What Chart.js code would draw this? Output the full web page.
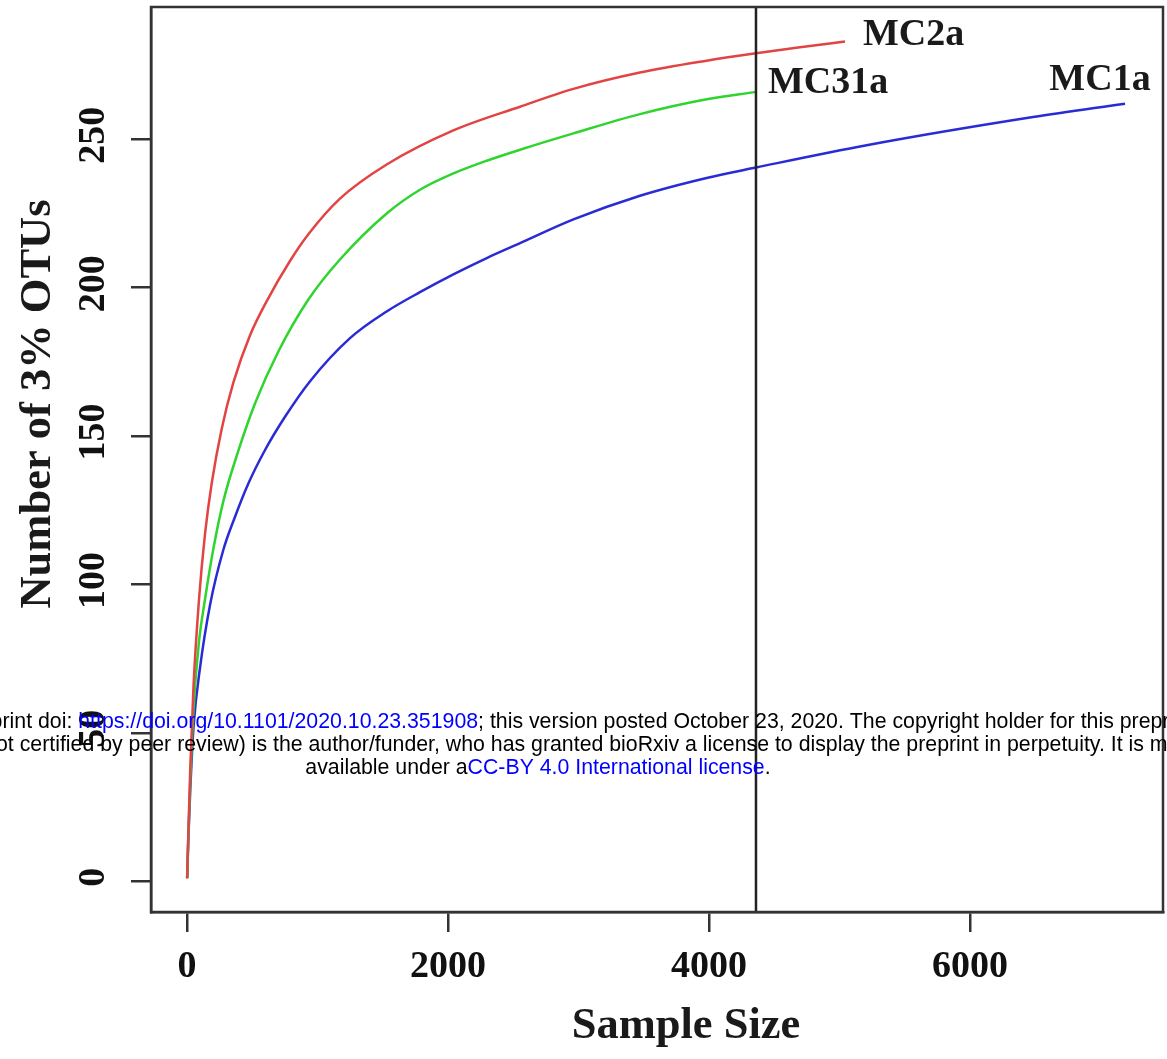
<!DOCTYPE html>
<html>
<head>
<meta charset="utf-8">
<script src="https://cdn.jsdelivr.net/npm/chart.js@4.4.1/dist/chart.umd.min.js"></script>
<style>
  html, body { margin: 0; padding: 0; background: #fff; }
</style>
</head>
<body>
<canvas id="chart" width="1167" height="1059"></canvas>
<script>
// rarefaction curves, values
const mc2a_size = [1, 10, 25, 50, 92, 138, 189, 266, 355, 483, 611, 789, 930, 1172, 1530, 2041, 2552, 2961, 3471, 3982, 4360, 4697, 5042];
const mc2a_otus = [1, 16, 38, 66, 95, 117, 134, 152.5, 168, 184, 195.5, 209, 218, 230, 241.5, 253, 261, 267, 272.5, 276.5, 279, 281, 283];

const mc31a_size = [1, 10, 25, 50, 90, 138, 202, 278, 393, 521, 700, 930, 1172, 1530, 1785, 2041, 2297, 2552, 2961, 3471, 3982, 4360];
const mc31a_otus = [1, 15, 34, 58, 80, 95, 112, 128, 145, 161, 178.5, 196, 209.5, 225, 233, 238.5, 242.8, 246.5, 252, 258.5, 263.5, 266];

const mc1a_size = [1, 10, 25, 50, 100, 176, 278, 368, 470, 598, 751, 943, 1249, 1530, 1785, 2041, 2297, 2552, 2961, 3471, 3982, 4360, 5208, 6483, 7188];
const mc1a_otus = [1, 14, 31, 52, 72, 93, 111.6, 122.8, 134, 145.3, 156.5, 168.5, 183, 192, 198.5, 204.5, 210, 215, 223, 231, 237, 240.5, 248, 257.5, 262];

const sample_names = ["MC2a", "MC31a", "MC1a"];
const x_ticks = [0, 2000, 4000, 6000];
const y_ticks = [0, 50, 100, 150, 200, 250];
const min_sample = 4360; // vertical line (smallest sample)

const serif = "'Liberation Serif', 'Times New Roman', serif";
const sans = "'Liberation Sans', Arial, sans-serif";

function pts(xs, ys) {
  return xs.map((x, i) => ({ x: x, y: ys[i] }));
}

// where the sample names sit next to the curve ends
const name_style = [
  { dx: 18, dy: -6, align: "left" },
  { dx: 12, dy: -9, align: "left" },
  { dx: -25, dy: -24, align: "center" }
];

const extras = {
  id: "extras",
  afterDatasetsDraw(chart) {
    const ctx = chart.ctx;
    const a = chart.chartArea;
    const xs = chart.scales.x, ys = chart.scales.y;
    ctx.save();

    // vertical line at the smallest sample size
    const vx = xs.getPixelForValue(min_sample);
    ctx.strokeStyle = "#222";
    ctx.lineWidth = 2.5;
    ctx.beginPath();
    ctx.moveTo(vx, a.top);
    ctx.lineTo(vx, a.bottom);
    ctx.stroke();

    // box round the plot
    ctx.strokeStyle = "#333";
    ctx.lineWidth = 2.5;
    ctx.strokeRect(a.left, a.top, a.right - a.left, a.bottom - a.top);

    // y tick labels, turned like R does
    ctx.fillStyle = "#111";
    ctx.font = "bold 38px " + serif;
    ctx.textAlign = "center";
    ctx.textBaseline = "middle";
    ys.ticks.forEach(t => {
      const py = ys.getPixelForValue(t.value);
      ctx.save();
      ctx.translate(94, py - 4);
      ctx.rotate(-Math.PI / 2);
      ctx.fillText(String(t.value), 0, 0);
      ctx.restore();
    });

    // sample names at the ends of the curves
    ctx.font = "bold 38px " + serif;
    ctx.fillStyle = "#1a1a1a";
    chart.data.datasets.forEach((ds, i) => {
      const meta = chart.getDatasetMeta(i);
      const last = meta.data[meta.data.length - 1];
      const st = name_style[i];
      ctx.textAlign = st.align;
      ctx.fillText(ds.label, last.x + st.dx, last.y + st.dy);
    });

    // axis titles
    ctx.font = "bold 44.5px " + serif;
    ctx.textAlign = "center";
    ctx.fillText("Sample Size", 686, 1026);
    ctx.save();
    ctx.translate(38, 404);
    ctx.rotate(-Math.PI / 2);
    ctx.fillText("Number of 3% OTUs", 0, 0);
    ctx.restore();

    ctx.restore();
  },
  afterDraw(chart) {
    // bioRxiv stamp laid over the figure
    const ctx = chart.ctx;
    ctx.save();
    ctx.font = "21.3px " + sans;
    ctx.textBaseline = "middle";
    ctx.textAlign = "left";
    const lines = [
      [["bioRxiv preprint doi: ", "#000"], ["https://doi.org/10.1101/2020.10.23.351908", "#0000ff"], ["; this version posted October 23, 2020. The copyright holder for this preprint", "#000"]],
      [["(which was not certified by peer review) is the author/funder, who has granted bioRxiv a license to display the preprint in perpetuity. It is made", "#000"]],
      [["available under a", "#000"], ["CC-BY 4.0 International license", "#0000ff"], [".", "#000"]]
    ];
    lines.forEach((segs, li) => {
      const w = segs.reduce((s, p) => s + ctx.measureText(p[0]).width, 0);
      let x = 538 - w / 2;
      const y = 722 + li * 23;
      segs.forEach(p => {
        ctx.fillStyle = p[1];
        ctx.fillText(p[0], x, y);
        x += ctx.measureText(p[0]).width;
      });
    });
    ctx.restore();
  }
};

const ctx = document.getElementById("chart").getContext("2d");

new Chart(ctx, {
  type: "scatter",
  data: {
    datasets: [{
      label: sample_names[0],
      data: pts(mc2a_size, mc2a_otus),
      borderColor: "#e24444",
      showLine: true
    }, {
      label: sample_names[1],
      data: pts(mc31a_size, mc31a_otus),
      borderColor: "#2fd42f",
      showLine: true
    }, {
      label: sample_names[2],
      data: pts(mc1a_size, mc1a_otus),
      borderColor: "#2b2bd6",
      showLine: true
    }]
  },
  options: {
    responsive: false,
    animation: false,
    layout: { padding: { top: 7, right: 4, left: 0, bottom: 0 } },
    elements: {
      point: { radius: 0 },
      line: { borderWidth: 2.5, cubicInterpolationMode: "monotone", fill: false }
    },
    plugins: {
      legend: { display: false },
      tooltip: { enabled: false }
    },
    scales: {
      x: {
        type: "linear",
        min: -276,
        max: 7479,
        afterBuildTicks: axis => { axis.ticks = x_ticks.map(v => ({ value: v })); },
        afterFit: axis => { axis.height = 147; },
        grid: { drawOnChartArea: false, drawTicks: true, tickLength: 20, color: "#333", lineWidth: 2.5 },
        border: { display: true, color: "#333", width: 2.5 },
        ticks: {
          padding: 12,
          color: "#111",
          font: { family: serif, size: 38, weight: "bold" },
          callback: v => String(v)
        }
      },
      y: {
        type: "linear",
        min: -10.4,
        max: 294.6,
        afterBuildTicks: axis => { axis.ticks = y_ticks.map(v => ({ value: v })); },
        afterFit: axis => { axis.width = 151; },
        grid: { drawOnChartArea: false, drawTicks: true, tickLength: 20, color: "#333", lineWidth: 2.5 },
        border: { display: true, color: "#333", width: 2.5 },
        ticks: { display: false }
      }
    }
  },
  plugins: [extras]
});
</script>
</body>
</html>
